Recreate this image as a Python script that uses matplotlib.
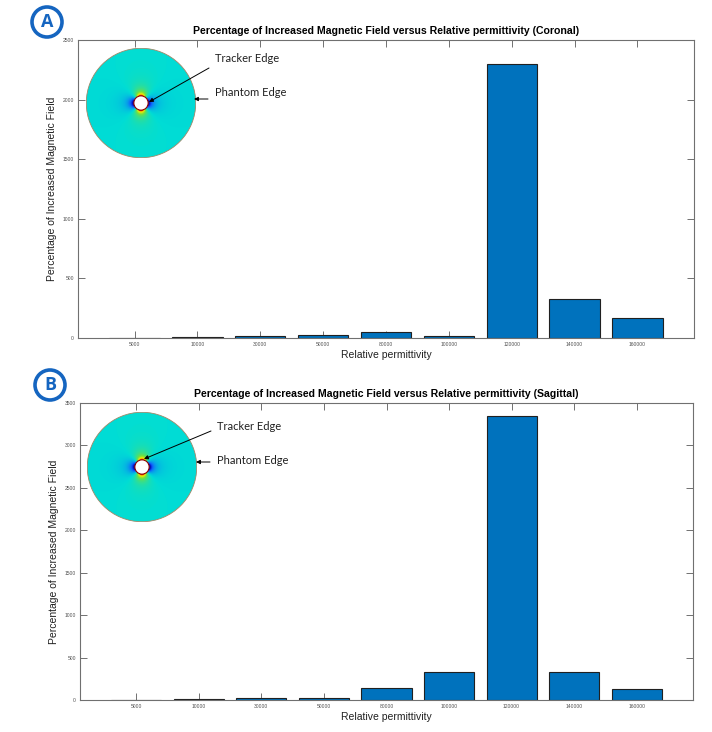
import numpy as np
import matplotlib
matplotlib.use("Agg")
import matplotlib.pyplot as plt
from matplotlib.patches import Circle
from matplotlib.colors import LinearSegmentedColormap

# ---- data ----
categories = ['5000', '10000', '30000', '50000', '80000', '100000', '120000', '140000', '160000']
coronal = [3, 8, 14, 25, 48, 16, 2300, 325, 165]
sagittal = [4, 10, 22, 24, 138, 328, 3350, 328, 127]
coronal_yticks = [0, 500, 1000, 1500, 2000, 2500]
sagittal_yticks = [0, 500, 1000, 1500, 2000, 2500, 3000, 3500]

W, H, DPI = 712, 732, 100
BAR_COL = '#0072BD'
SPINE_COL = '#707070'
BADGE_COL = '#1565C0'

plt.rcParams['font.family'] = ['Liberation Sans', 'DejaVu Sans']

fig = plt.figure(figsize=(W / DPI, H / DPI), dpi=DPI)


def px_rect(x0, y0, x1, y1):
    # image pixel box (top-left origin) -> figure fraction rect
    return [x0 / W, 1 - y1 / H, (x1 - x0) / W, (y1 - y0) / H]


def bar_panel(rect, values, yticks, title):
    ax = fig.add_axes(rect)
    x = np.arange(1, len(values) + 1)
    ax.bar(x, values, width=0.8, color=BAR_COL, edgecolor='#202020', linewidth=0.8, zorder=2)
    ax.set_xlim(0.1, 9.9)
    ax.set_ylim(yticks[0], yticks[-1])
    ax.set_xticks(x)
    ax.set_xticklabels(categories)
    ax.set_yticks(yticks)
    ax.tick_params(direction='in', length=5, width=0.7, color=SPINE_COL,
                   labelsize=3.6, labelcolor='#505050', pad=3,
                   top=True, right=True)
    for s in ax.spines.values():
        s.set_color(SPINE_COL)
        s.set_linewidth(0.8)
    ax.set_title(title, fontsize=7.6, fontweight='bold', pad=4)
    ax.set_xlabel('Relative permittivity', fontsize=7.5, labelpad=2, color='#202020')
    ax.set_ylabel('Percentage of Increased Magnetic Field', fontsize=7.5, labelpad=4, color='#202020')
    return ax


bar_panel(px_rect(78, 40, 694, 338), coronal, coronal_yticks,
          'Percentage of Increased Magnetic Field versus Relative permittivity (Coronal)')
bar_panel(px_rect(80, 403, 693, 700), sagittal, sagittal_yticks,
          'Percentage of Increased Magnetic Field versus Relative permittivity (Sagittal)')

# ---- phantom sketch insets ----
field_cmap = LinearSegmentedColormap.from_list('field', [
    (0.0, '#0000B0'), (0.2, '#1060FF'), (0.42, '#00DDD5'),
    (0.6, '#70E040'), (0.75, '#F5F000'), (0.88, '#FF7000'), (1.0, '#B00000')])


def phantom(cx, cy, r=55, hole=0.13):
    ax = fig.add_axes(px_rect(cx - r, cy - r, cx + r, cy + r))
    ax.set_xlim(-1, 1)
    ax.set_ylim(-1, 1)
    ax.axis('off')
    g = np.linspace(-1, 1, 400)
    gx, gy = np.meshgrid(g, g)
    rr = np.hypot(gx, gy)
    th = np.arctan2(gy, gx)
    v = 0.42 - 0.62 * (hole / np.maximum(rr, hole)) ** 2.6 * np.cos(2 * th)
    im = ax.imshow(v, extent=(-1, 1, -1, 1), origin='lower', cmap=field_cmap,
                   vmin=0, vmax=1, interpolation='bilinear')
    clip = Circle((0, 0), 0.995, transform=ax.transData)
    im.set_clip_path(clip)
    ax.add_patch(Circle((0, 0), 0.995, fill=False, ec='#A08868', lw=0.6))
    ax.add_patch(Circle((0, 0), hole, fc='white', ec='#900000', lw=0.8))


phantom(141, 103)
phantom(142, 467)


# ---- annotations (figure pixels, origin bottom-left) ----
def note(text, tx, ty, x0, y0, x1, y1):
    fig.text(tx / W, 1 - ty / H, text, fontsize=8, family=['Lato', 'DejaVu Sans'],
             va='center', ha='left', color='#202020')
    plt.annotate('', xy=(x1, H - y1), xytext=(x0, H - y0),
                 xycoords='figure pixels', textcoords='figure pixels',
                 arrowprops=dict(arrowstyle='-|>', color='black', lw=0.7,
                                 mutation_scale=6, shrinkA=0, shrinkB=0))


note('Tracker Edge', 215, 59, 209, 68, 149, 102)
note('Phantom Edge', 215, 93, 208, 99, 194, 99)
note('Tracker Edge', 217, 426, 211, 431, 144, 459)
note('Phantom Edge', 217, 460, 210, 462, 196, 462)

# ---- circled panel letters ----
for letter, cx, cy in [('A', 47, 22), ('B', 50, 385)]:
    fig.add_artist(Circle((cx / DPI, (H - cy) / DPI), 15 / DPI, transform=fig.dpi_scale_trans,
                          fill=False, ec=BADGE_COL, lw=2.6))
    fig.text(cx / W, 1 - cy / H, letter, fontsize=13, fontweight='bold', color=BADGE_COL,
             ha='center', va='center', family=['Open Sans', 'DejaVu Sans'])

fig.savefig('out.png', dpi=DPI, facecolor='white')
